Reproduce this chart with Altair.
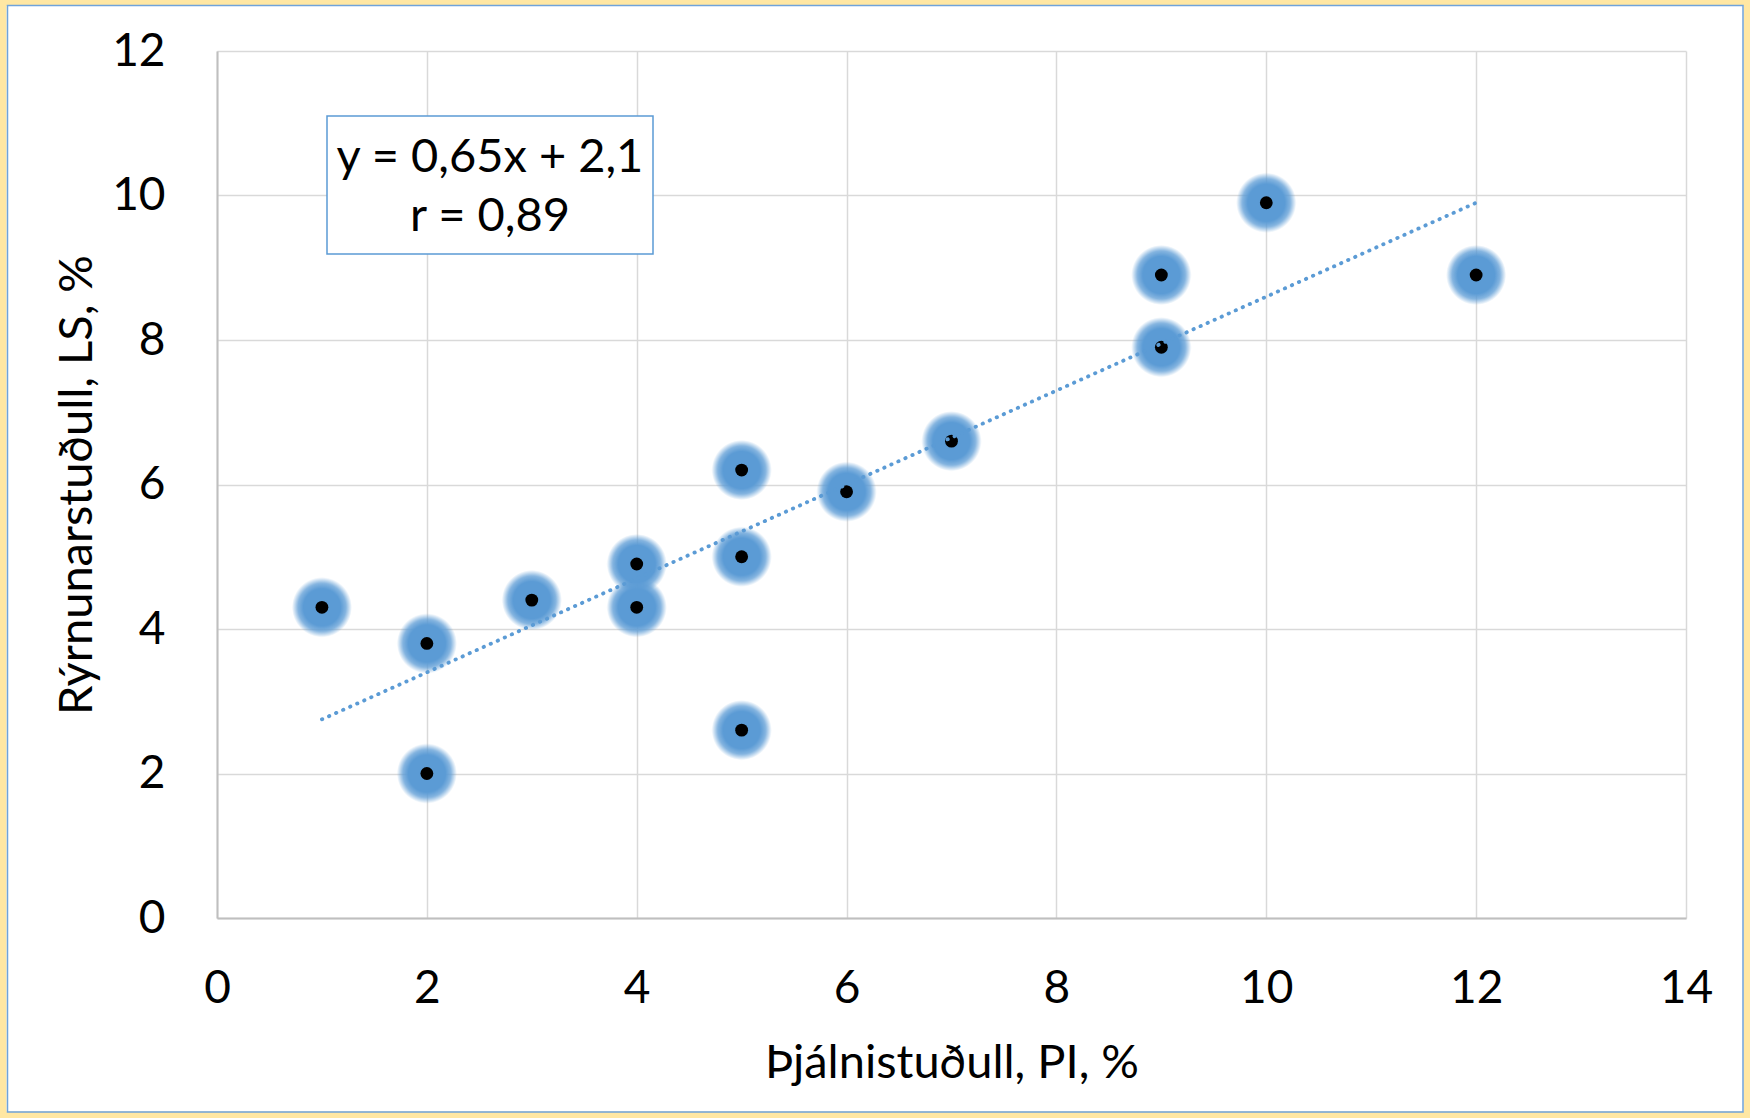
import altair as alt
import pandas as pd

# Plasticity index (PI) vs. linear shrinkage (LS), both in %
pi_values = [1, 2, 2, 3, 4, 4, 5, 5, 5, 6, 7, 9, 9, 10, 12]
ls_values = [4.3, 3.8, 2.0, 4.4, 4.9, 4.3, 6.2, 5.0, 2.6, 5.9, 6.6, 8.9, 7.9, 9.9, 8.9]

# Linear trend and correlation given in the annotation box
slope = 0.65
intercept = 2.1
r_value = 0.89

x_ticks = [0, 2, 4, 6, 8, 10, 12, 14]
y_ticks = [0, 2, 4, 6, 8, 10, 12]

x_title = "Þjálnistuðull, PI, %"
y_title = "Rýrnunarstuðull, LS, %"

FONT = "Lato"
BLUE = "#5B9BD5"
W, H = 1469, 867
PAD = {"left": 217, "top": 51, "right": 64, "bottom": 200}

points = pd.DataFrame({"pi": pi_values, "ls": ls_values})
trend = pd.DataFrame({"pi": [min(pi_values), max(pi_values)]})
one = pd.DataFrame({"k": [0]})

eq_text = f"y = {slope:.2f}x + {intercept:.1f}".replace(".", ",")
r_text = f"r = {r_value:.2f}".replace(".", ",")

x_enc = alt.X(
    "pi:Q",
    scale=alt.Scale(domain=[0, 14], nice=False, zero=False),
    axis=alt.Axis(
        values=x_ticks, title=x_title, grid=True, gridColor="#D9D9D9", gridWidth=1.5,
        domainColor="#BFBFBF", domainWidth=2, ticks=False, tickSize=0,
        labelFont=FONT, labelFontSize=46, labelColor="black", labelPadding=48,
        labelFlush=False, labelOverlap=False,
        titleFont=FONT, titleFontSize=47, titleFontWeight="normal", titleColor="black",
        titleBaseline="alphabetic", titleY=159, titleX=W / 2,
    ),
)
y_enc = alt.Y(
    "ls:Q",
    scale=alt.Scale(domain=[0, 12], nice=False, zero=False),
    axis=alt.Axis(
        values=y_ticks, title=y_title, grid=True, gridColor="#D9D9D9", gridWidth=1.5,
        domainColor="#BFBFBF", domainWidth=2, ticks=False, tickSize=0,
        labelFont=FONT, labelFontSize=46, labelColor="black", labelPadding=52,
        labelOverlap=False,
        titleFont=FONT, titleFontSize=47, titleFontWeight="normal", titleColor="black",
        titleBaseline="alphabetic", titleX=-126, titleY=H / 2, titleAngle=270,
    ),
)

# Outer frame: pale yellow band with a thin blue inner line
frame_yellow = alt.Chart(one).mark_rect(
    fillOpacity=0, stroke="#FFE7A3", strokeWidth=7
).encode(
    x=alt.value(-PAD["left"] + 3), x2=alt.value(W + PAD["right"] - 3),
    y=alt.value(-PAD["top"] + 2.5), y2=alt.value(H + PAD["bottom"] - 3),
)
frame_blue = alt.Chart(one).mark_rect(
    fillOpacity=0, stroke="#6FA3DA", strokeWidth=1.5
).encode(
    x=alt.value(-PAD["left"] + 7.5), x2=alt.value(W + PAD["right"] - 7),
    y=alt.value(-PAD["top"] + 5.5), y2=alt.value(H + PAD["bottom"] - 6),
)

# Soft blue glow behind each marker
glow_fill = alt.Gradient(
    gradient="radial",
    stops=[
        alt.GradientStop(offset=0, color="rgba(91,155,213,1)"),
        alt.GradientStop(offset=0.62, color="rgba(91,155,213,1)"),
        alt.GradientStop(offset=0.8, color="rgba(91,155,213,0.75)"),
        alt.GradientStop(offset=0.92, color="rgba(91,155,213,0.3)"),
        alt.GradientStop(offset=1, color="rgba(91,155,213,0)"),
    ],
    x1=0.5, y1=0.5, r1=0, x2=0.5, y2=0.5, r2=0.5,
)
glow = alt.Chart(points).mark_circle(size=3600, opacity=1, color=glow_fill).encode(
    x=x_enc, y=y_enc
)
dots = alt.Chart(points).mark_circle(size=165, opacity=1, color="black").encode(
    x=x_enc, y=y_enc
)

trend_line = alt.Chart(trend).transform_calculate(
    ls=f"{slope} * datum.pi + {intercept}"
).mark_line(
    color=BLUE, strokeWidth=3.8, strokeDash=[0.4, 7.3], strokeCap="round"
).encode(x=x_enc, y=y_enc)

# Annotation box with regression equation and correlation coefficient
box = alt.Chart(one).mark_rect(fill="white", stroke=BLUE, strokeWidth=1.5).encode(
    x=alt.value(110), x2=alt.value(436), y=alt.value(65), y2=alt.value(203)
)
eq_label = alt.Chart(one).mark_text(
    text=eq_text, font=FONT, fontSize=47, color="black", align="center", baseline="middle"
).encode(x=alt.value(273), y=alt.value(107))
r_label = alt.Chart(one).mark_text(
    text=r_text, font=FONT, fontSize=47, color="black", align="center", baseline="middle"
).encode(x=alt.value(273), y=alt.value(166))

chart = alt.layer(
    frame_yellow, frame_blue, glow, dots, trend_line, box, eq_label, r_label
).properties(
    width=W, height=H, padding=PAD,
    autosize=alt.AutoSizeParams(type="none"),
    background="white",
).configure_view(strokeWidth=0)

chart.save("out.html", embed_options={"renderer": "svg", "actions": False})
